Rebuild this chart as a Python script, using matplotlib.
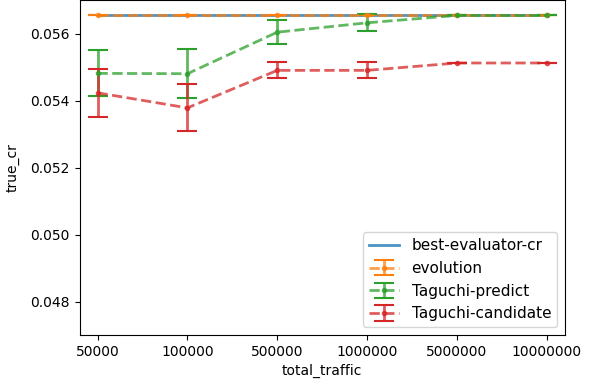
import matplotlib
matplotlib.use('Agg')
import matplotlib.pyplot as plt
import numpy as np

traffic = ['50000', '100000', '500000', '1000000', '5000000', '10000000']
best_cr = [0.05655, 0.05655, 0.05655, 0.05655, 0.05655, 0.05655]
evolution = [0.05655, 0.05655, 0.05655, 0.05655, 0.05655, 0.05655]
evolution_err = [0.0, 0.0, 0.0, 0.0, 0.0, 0.0]
tag_predict = [0.05481, 0.05480, 0.05604, 0.05632, 0.05654, 0.05654]
tag_predict_err = [0.00069, 0.00073, 0.00036, 0.00025, 0.0, 0.0]
tag_cand = [0.05423, 0.05378, 0.05490, 0.05490, 0.05512, 0.05512]
tag_cand_err = [0.00072, 0.00070, 0.00024, 0.00024, 0.0, 0.0]

x = np.arange(len(traffic))

fig, ax = plt.subplots(figsize=(6.12, 3.86), dpi=100)

ax.plot(x, best_cr, color='tab:blue', alpha=0.8, lw=2, label='best-evaluator-cr')

for y, err, c, lab in [(evolution, evolution_err, 'tab:orange', 'evolution'),
                       (tag_predict, tag_predict_err, 'tab:green', 'Taguchi-predict'),
                       (tag_cand, tag_cand_err, 'tab:red', 'Taguchi-candidate')]:
    cont = ax.errorbar(x, y, yerr=err, color=c, ls='--', marker='.', lw=2,
                       capsize=7, capthick=1.5, elinewidth=2, label=lab)
    cont[0].set_alpha(0.75)
    for b in cont[2]:
        b.set_alpha(0.75)

ax.set_xticks(x)
ax.set_xticklabels(traffic)
ax.set_xlim(-0.2, 5.2)
ax.set_ylim(0.047, 0.057)
ax.set_yticks([0.048, 0.050, 0.052, 0.054, 0.056])
ax.set_xlabel('total_traffic')
ax.set_ylabel('true_cr', labelpad=8)
ax.legend(loc='lower right', fontsize=11)

plt.subplots_adjust(left=0.13, right=0.923, top=1.0, bottom=0.132)
plt.savefig('out.png')
